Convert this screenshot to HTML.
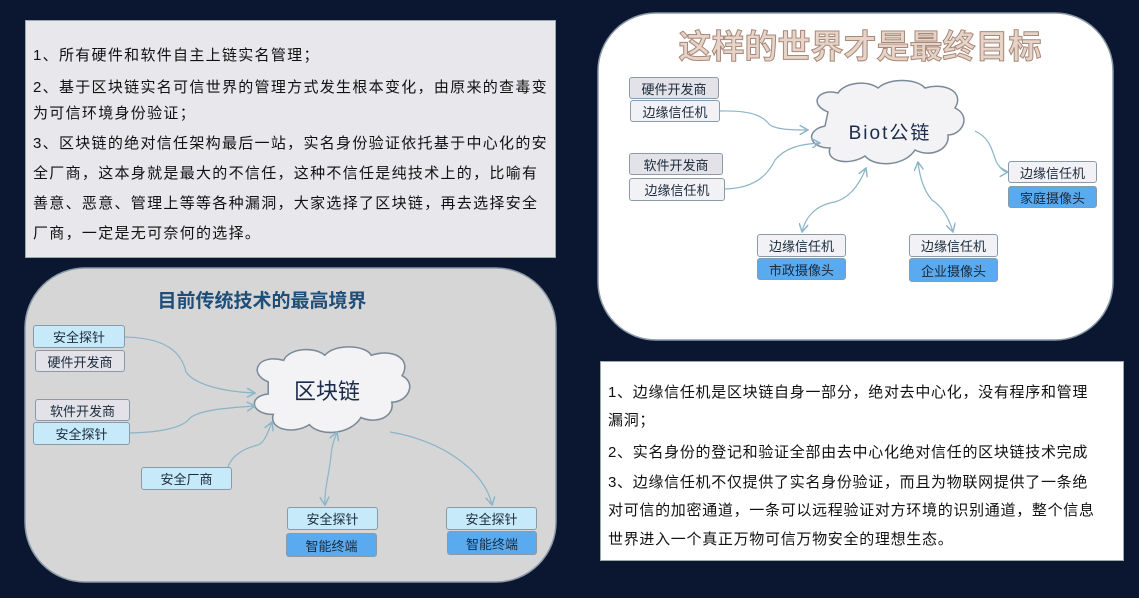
<!DOCTYPE html>
<html><head><meta charset="utf-8"><style>
body{margin:0;width:1139px;height:598px;background:#0b1730;position:relative;overflow:hidden;font-family:"Liberation Sans","Noto Sans CJK SC",sans-serif;}
.tb{position:absolute;color:#111;font-size:15px;white-space:nowrap;}
.tb div{position:absolute;left:0;}
.bx{position:absolute;box-sizing:border-box;border:1.5px solid #8a9aa8;border-radius:3px;font-size:13px;color:#1a2a3a;text-align:center;display:flex;align-items:center;justify-content:center;}
.lb{background:#c7eafa;}.gr{background:#e2e2e8;}.wh{background:#f2f2f6;}.bl{background:#5aaaf0;}
</style></head><body>
<div style="position:absolute;left:25px;top:20px;width:531px;height:238px;background:#e8e8ec;border:1px solid #9aa;box-sizing:border-box"></div>
<div class="tb" style="left:33px;top:0;letter-spacing:1.3px">
<div style="top:44px">1、所有硬件和软件自主上链实名管理；</div>
<div style="top:76px">2、基于区块链实名可信世界的管理方式发生根本变化，由原来的查毒变</div>
<div style="top:102px">为可信环境身份验证；</div>
<div style="top:132px">3、区块链的绝对信任架构最后一站，实名身份验证依托基于中心化的安</div>
<div style="top:162px">全厂商，这本身就是最大的不信任，这种不信任是纯技术上的，比喻有</div>
<div style="top:192px">善意、恶意、管理上等等各种漏洞，大家选择了区块链，再去选择安全</div>
<div style="top:222px">厂商，一定是无可奈何的选择。</div>
</div>
<div style="position:absolute;left:600px;top:361px;width:524px;height:200px;background:#fff;border:1px solid #9aa;box-sizing:border-box"></div>
<div class="tb" style="left:608px;top:0;letter-spacing:0.7px">
<div style="top:381px">1、边缘信任机是区块链自身一部分，绝对去中心化，没有程序和管理</div>
<div style="top:409px">漏洞；</div>
<div style="top:441px">2、实名身份的登记和验证全部由去中心化绝对信任的区块链技术完成</div>
<div style="top:471px">3、边缘信任机不仅提供了实名身份验证，而且为物联网提供了一条绝</div>
<div style="top:499px">对可信的加密通道，一条可以远程验证对方环境的识别通道，整个信息</div>
<div style="top:528px">世界进入一个真正万物可信万物安全的理想生态。</div>
</div>
<svg width="1139" height="598" style="position:absolute;left:0;top:0">
<defs><marker id="a" markerWidth="8" markerHeight="8" refX="7" refY="4" orient="auto-start-reverse"><path d="M0,0L7,4L0,8" fill="none" stroke="#8ab4c8" stroke-width="1.2"/></marker></defs>
<rect x="25" y="268" width="531" height="314" rx="60" fill="#d6d6d6" stroke="#8a9aa8" stroke-width="1.5"/>
<rect x="598" y="13" width="515" height="327" rx="58" fill="#fff" stroke="#8a9aa8" stroke-width="1.5"/>
<g fill="#f3f3f6" stroke="#7a8a98" stroke-width="1.5">
<path transform="translate(330,392) scale(1.03,1.02) translate(-305,-388)" d="M245,378 C225,370 235,350 260,357 C265,345 290,343 300,352 C310,340 340,342 345,352 C365,345 385,355 375,372 C390,380 380,398 365,398 C368,412 350,420 335,413 C325,430 295,432 285,420 C270,430 245,425 250,410 C228,410 225,392 245,390 Z"/>
<path d="M828,112 C808,104 818,88 838,93 C845,82 868,80 878,88 C890,77 918,79 925,88 C945,82 965,92 955,108 C972,116 962,135 948,135 C950,150 930,158 915,150 C905,166 875,168 865,156 C850,166 825,162 830,148 C808,148 805,130 825,126 Z"/>
</g>
<text x="327" y="399" font-size="22" text-anchor="middle" fill="#1a2a4a" font-family="Liberation Sans,Noto Sans CJK SC,sans-serif">区块链</text>
<text x="890" y="139" font-size="19" text-anchor="middle" fill="#1a2a4a" letter-spacing="2" font-family="Liberation Sans,Noto Sans CJK SC,sans-serif">Biot公链</text>
<text x="262" y="307" font-size="19" font-weight="bold" text-anchor="middle" fill="#1f4e79" font-family="Liberation Sans,Noto Sans CJK SC,sans-serif">目前传统技术的最高境界</text>
<text x="860" y="58" font-size="33" font-weight="bold" text-anchor="middle" fill="#e6d4c8" stroke="#a88878" stroke-width="1" font-family="Liberation Sans,Noto Sans CJK SC,sans-serif">这样的世界才是最终目标</text>
<g fill="none" stroke="#8ab4c8" stroke-width="1.2">
<path d="M125,337 C170,338 182,355 186,372 C195,385 225,392 255,393" marker-end="url(#a)"/>
<path d="M130,433 C170,432 185,425 190,418 C200,410 225,408 255,406" marker-end="url(#a)"/>
<path d="M228,467 C232,455 245,448 258,445 C265,442 268,432 272,422" marker-end="url(#a)"/>
<path d="M325,505 C324,490 330,470 331,455 C332,445 334,440 337,432" marker-start="url(#a)" marker-end="url(#a)"/>
<path d="M390,432 C440,440 485,470 492,505" marker-end="url(#a)"/>
<path d="M720,111 C760,110 765,120 770,125 C778,130 795,130 808,130" marker-end="url(#a)"/>
<path d="M725,189 C760,188 770,170 775,160 C785,148 800,144 820,143" marker-end="url(#a)"/>
<path d="M802,232 C805,218 815,205 835,202 C848,198 858,188 866,168" marker-start="url(#a)" marker-end="url(#a)"/>
<path d="M953,232 C948,215 940,205 932,200 C925,192 920,180 918,162" marker-start="url(#a)" marker-end="url(#a)"/>
<path d="M975,131 C995,140 992,160 1000,167 C1004,172 1006,172 1008,172" marker-end="url(#a)"/>
</g>
</svg>
<div class="bx lb" style="left:33px;top:325px;width:92px;height:23px">安全探针</div>
<div class="bx gr" style="left:35px;top:350px;width:90px;height:22px">硬件开发商</div>
<div class="bx gr" style="left:35px;top:399px;width:95px;height:22px">软件开发商</div>
<div class="bx lb" style="left:33px;top:422px;width:97px;height:23px">安全探针</div>
<div class="bx lb" style="left:141px;top:467px;width:91px;height:23px">安全厂商</div>
<div class="bx lb" style="left:287px;top:507px;width:91px;height:23px">安全探针</div>
<div class="bx bl" style="left:286px;top:533px;width:91px;height:24px">智能终端</div>
<div class="bx lb" style="left:446px;top:507px;width:91px;height:23px">安全探针</div>
<div class="bx bl" style="left:447px;top:531px;width:90px;height:24px">智能终端</div>
<div class="bx gr" style="left:629px;top:77px;width:90px;height:22px">硬件开发商</div>
<div class="bx wh" style="left:630px;top:100px;width:90px;height:22px">边缘信任机</div>
<div class="bx gr" style="left:629px;top:153px;width:94px;height:22px">软件开发商</div>
<div class="bx wh" style="left:629px;top:178px;width:96px;height:23px">边缘信任机</div>
<div class="bx wh" style="left:1008px;top:161px;width:89px;height:22px">边缘信任机</div>
<div class="bx bl" style="left:1008px;top:186px;width:89px;height:22px">家庭摄像头</div>
<div class="bx wh" style="left:757px;top:234px;width:89px;height:23px">边缘信任机</div>
<div class="bx bl" style="left:757px;top:258px;width:89px;height:22px">市政摄像头</div>
<div class="bx wh" style="left:909px;top:234px;width:89px;height:23px">边缘信任机</div>
<div class="bx bl" style="left:909px;top:258px;width:89px;height:24px">企业摄像头</div>
</body></html>
